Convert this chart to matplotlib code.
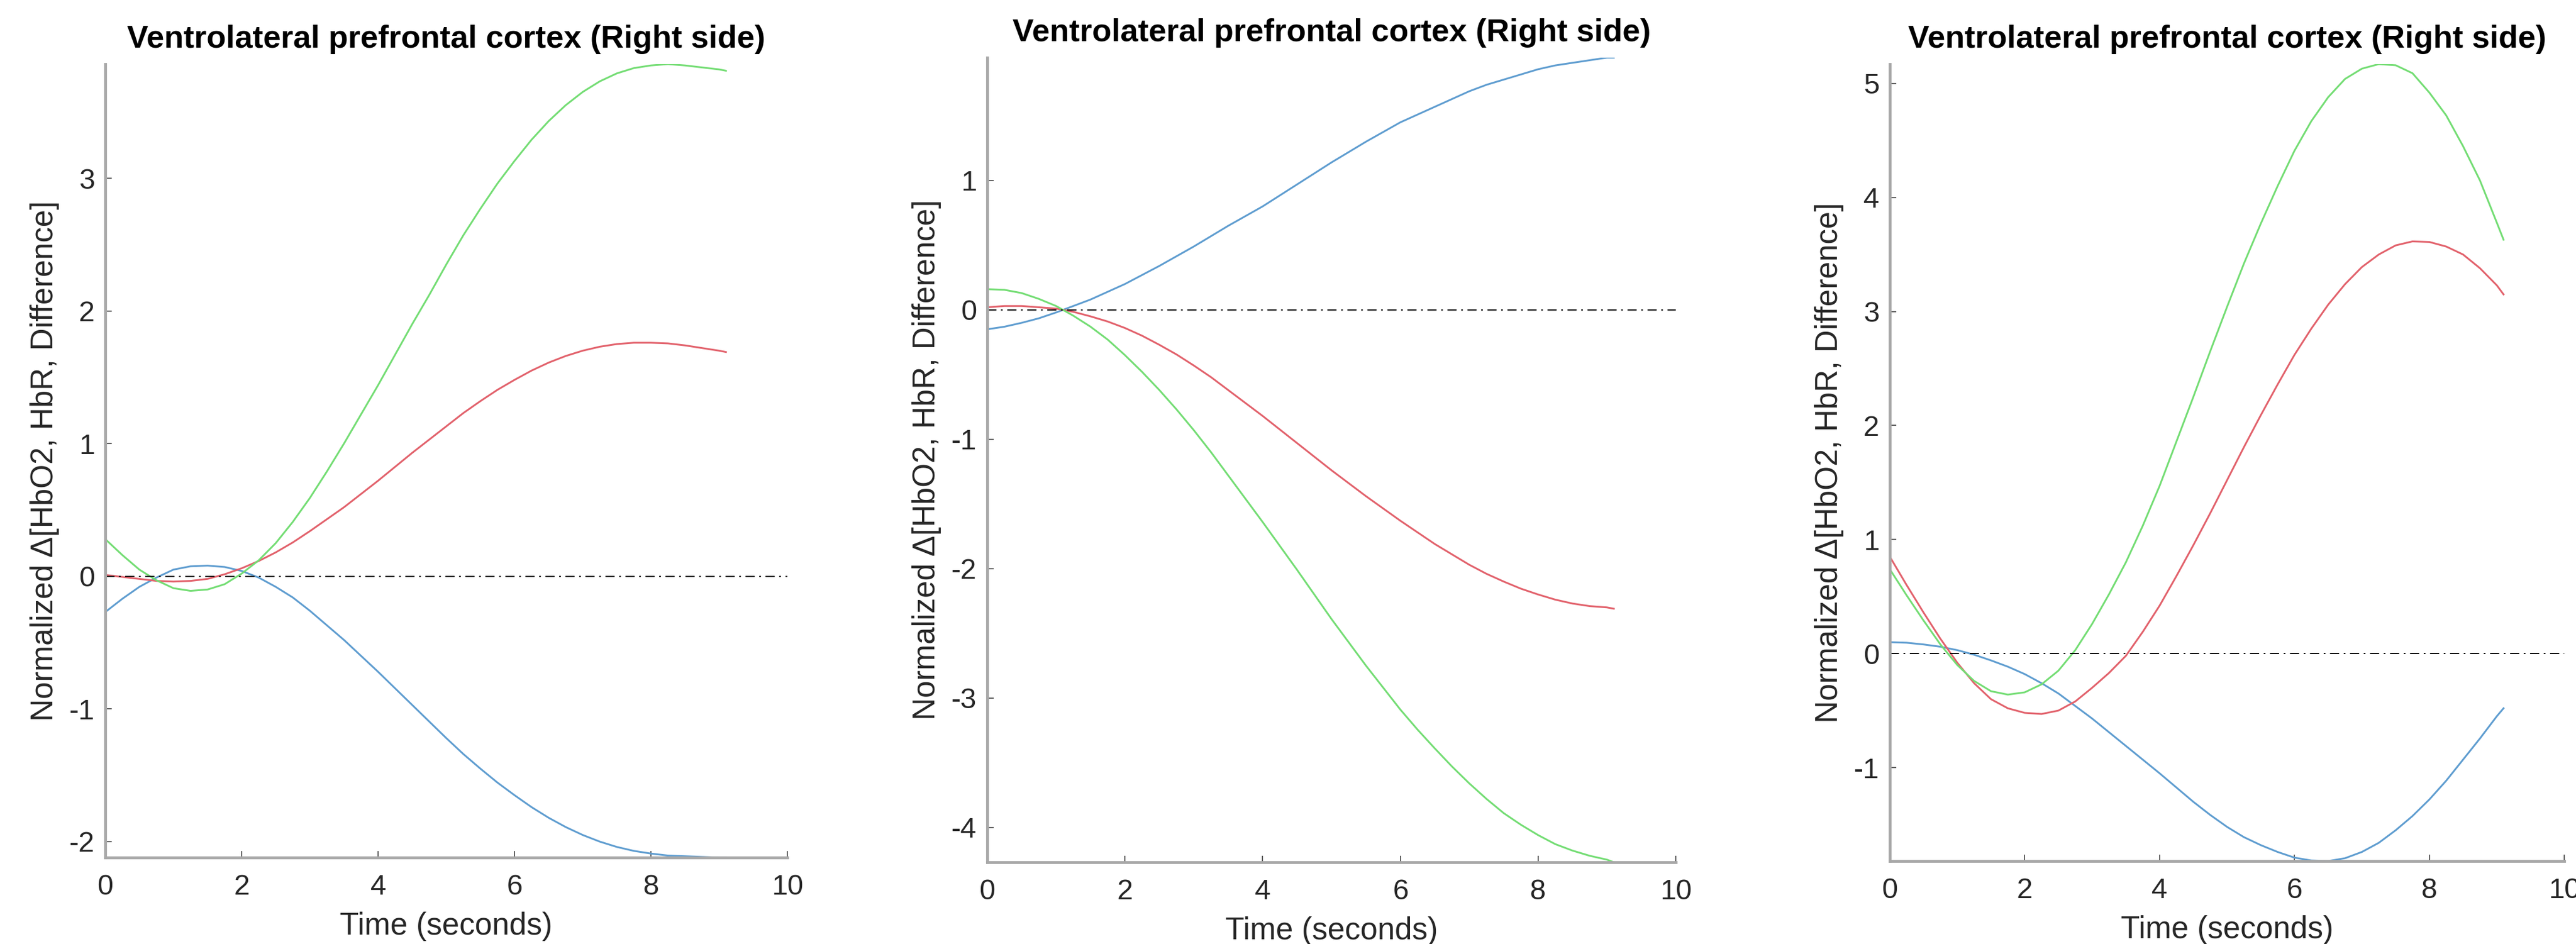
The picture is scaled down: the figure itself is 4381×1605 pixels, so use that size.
import matplotlib
matplotlib.use("Agg")
import matplotlib.pyplot as plt
from matplotlib.ticker import MultipleLocator

plt.rcParams["font.family"] = ["Liberation Sans", "DejaVu Sans"]
plt.rcParams["axes.unicode_minus"] = False

# time axis (seconds), same for all three panels
time_s = [0.0, 0.25, 0.5, 0.75, 1.0, 1.25, 1.5, 1.75, 2.0, 2.25,
          2.5, 2.75, 3.0, 3.25, 3.5, 3.75, 4.0, 4.25, 4.5, 4.75,
          5.0, 5.25, 5.5, 5.75, 6.0, 6.25, 6.5, 6.75, 7.0, 7.25,
          7.5, 7.75, 8.0, 8.25, 8.5, 8.75, 9.0, 9.1]

# panel 1
p1_hbo2 = [0.01, -0.005, -0.02, -0.035, -0.04, -0.035, -0.02, 0.015, 0.06, 0.115,
           0.18, 0.255, 0.34, 0.43, 0.52, 0.62, 0.72, 0.825, 0.93, 1.03,
           1.13, 1.23, 1.32, 1.405, 1.48, 1.55, 1.61, 1.66, 1.70, 1.73,
           1.75, 1.76, 1.76, 1.755, 1.74, 1.72, 1.70, 1.69]
p1_hbr = [-0.27, -0.17, -0.08, -0.01, 0.05, 0.075, 0.08, 0.07, 0.04, -0.01,
          -0.08, -0.16, -0.26, -0.37, -0.48, -0.60, -0.72, -0.845, -0.97, -1.095,
          -1.22, -1.34, -1.45, -1.555, -1.65, -1.74, -1.82, -1.89, -1.95, -2.0,
          -2.04, -2.07, -2.09, -2.105, -2.11, -2.115, -2.12, -2.12]
p1_diff = [0.28, 0.16, 0.05, -0.03, -0.09, -0.11, -0.10, -0.06, 0.02, 0.12,
           0.25, 0.41, 0.59, 0.79, 1.0, 1.22, 1.44, 1.67, 1.9, 2.12,
           2.35, 2.57, 2.77, 2.96, 3.13, 3.29, 3.43, 3.55, 3.65, 3.73,
           3.79, 3.83, 3.85, 3.86, 3.85, 3.835, 3.82, 3.81]

# panel 2
p2_hbo2 = [0.02, 0.03, 0.03, 0.02, 0.01, -0.015, -0.05, -0.09, -0.14, -0.20,
           -0.27, -0.345, -0.43, -0.52, -0.62, -0.72, -0.82, -0.925, -1.03, -1.135,
           -1.24, -1.34, -1.44, -1.535, -1.63, -1.72, -1.81, -1.89, -1.97, -2.04,
           -2.10, -2.155, -2.20, -2.24, -2.27, -2.29, -2.30, -2.31]
p2_hbr = [-0.15, -0.13, -0.10, -0.065, -0.02, 0.03, 0.08, 0.14, 0.20, 0.27,
          0.34, 0.415, 0.49, 0.57, 0.65, 0.725, 0.80, 0.885, 0.97, 1.055,
          1.14, 1.22, 1.30, 1.375, 1.45, 1.51, 1.57, 1.63, 1.69, 1.74,
          1.78, 1.82, 1.86, 1.89, 1.91, 1.93, 1.95, 1.95]
p2_diff = [0.16, 0.155, 0.13, 0.085, 0.03, -0.045, -0.13, -0.23, -0.35, -0.48,
           -0.62, -0.77, -0.93, -1.10, -1.28, -1.46, -1.64, -1.825, -2.01, -2.20,
           -2.39, -2.57, -2.75, -2.92, -3.09, -3.245, -3.39, -3.53, -3.66, -3.78,
           -3.89, -3.98, -4.06, -4.13, -4.18, -4.22, -4.25, -4.27]

# panel 3
p3_hbo2 = [0.85, 0.60, 0.36, 0.13, -0.08, -0.26, -0.40, -0.48, -0.52, -0.53,
           -0.50, -0.42, -0.30, -0.17, -0.02, 0.19, 0.42, 0.68, 0.95, 1.23,
           1.52, 1.81, 2.09, 2.36, 2.62, 2.85, 3.06, 3.24, 3.39, 3.50,
           3.58, 3.615, 3.61, 3.57, 3.50, 3.38, 3.23, 3.15]
p3_hbr = [0.10, 0.095, 0.08, 0.06, 0.03, -0.01, -0.06, -0.115, -0.18, -0.26,
          -0.35, -0.46, -0.57, -0.69, -0.81, -0.93, -1.05, -1.175, -1.30, -1.415,
          -1.52, -1.61, -1.68, -1.74, -1.79, -1.815, -1.82, -1.795, -1.74, -1.66,
          -1.55, -1.425, -1.28, -1.115, -0.93, -0.745, -0.55, -0.48]
p3_diff = [0.74, 0.51, 0.29, 0.08, -0.10, -0.24, -0.33, -0.36, -0.34, -0.27,
           -0.15, 0.03, 0.26, 0.52, 0.80, 1.12, 1.47, 1.86, 2.25, 2.65,
           3.04, 3.42, 3.77, 4.10, 4.41, 4.67, 4.88, 5.04, 5.13, 5.17,
           5.16, 5.09, 4.92, 4.72, 4.45, 4.15, 3.78, 3.63]

title = "Ventrolateral prefrontal cortex (Right side)"
xlabel = "Time (seconds)"
ylabel = "Normalized \u0394[HbO2, HbR, Difference]"

W, H = 4381, 1605
# axes boxes in pixels: left, right, top, bottom
boxes = [(179, 1339, 109, 1458), (1679, 2850, 98, 1466), (3214, 4361, 109, 1464)]
panels = [(p1_hbo2, p1_hbr, p1_diff), (p2_hbo2, p2_hbr, p2_diff),
          (p3_hbo2, p3_hbr, p3_diff)]

c_hbo2 = "#e2626c"
c_hbr = "#5f9dd0"
c_diff = "#74dd74"
spine_col = "#a8a8a8"

fig = plt.figure(figsize=(W / 100, H / 100), dpi=100)

for (l, r, t, b), (hbo2, hbr, diff) in zip(boxes, panels):
    ax = fig.add_axes([l / W, (H - b) / H, (r - l) / W, (b - t) / H])
    ax.plot(time_s, hbr, color=c_hbr, lw=2.2)
    ax.plot(time_s, hbo2, color=c_hbo2, lw=2.2)
    ax.plot(time_s, diff, color=c_diff, lw=2.2)
    ax.axhline(0, color="black", lw=1.4, dashes=(8, 4, 1.5, 4))

    lo = min(min(hbo2), min(hbr), min(diff))
    hi = max(max(hbo2), max(hbr), max(diff))
    ax.set_xlim(0, 10)
    ax.set_ylim(lo, hi)
    ax.xaxis.set_major_locator(MultipleLocator(2))
    ax.yaxis.set_major_locator(MultipleLocator(1))

    for side in ("top", "right"):
        ax.spines[side].set_visible(False)
    for side in ("left", "bottom"):
        ax.spines[side].set_color(spine_col)
        ax.spines[side].set_linewidth(3.5)

    ax.tick_params(direction="in", length=8, width=1.2, color="#404040",
                   labelsize=35, labelcolor="#262626")
    ax.tick_params(axis="x", pad=20)
    ax.tick_params(axis="y", pad=13)

    ax.set_title(title, fontsize=39, fontweight="bold", pad=20)
    ax.set_xlabel(xlabel, fontsize=38, color="#262626")
    ax.set_ylabel(ylabel, fontsize=38, color="#262626")
    ax.xaxis.set_label_coords(0.5, -92 / (b - t))
    ax.xaxis.label.set_va("top")
    ax.yaxis.set_label_coords(-78 / (r - l), 0.5)

fig.savefig("out.png", dpi=100, facecolor="white")
